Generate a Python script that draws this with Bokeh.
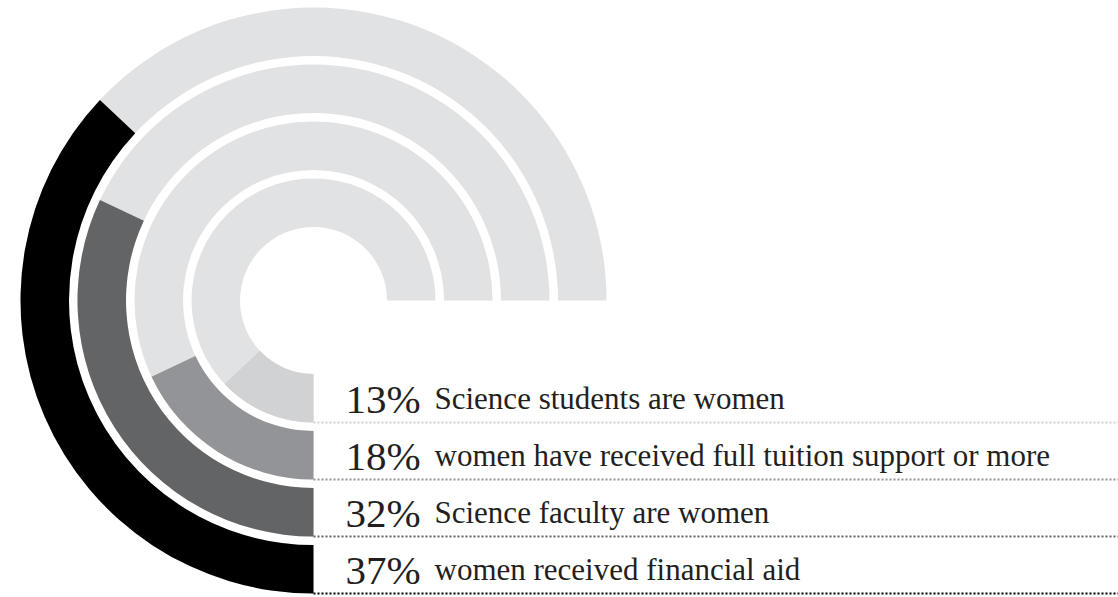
import math
from bokeh.plotting import figure
from bokeh.models import Range1d, ColumnDataSource
from bokeh.core.properties import value
from bokeh.embed import file_html
from bokeh.resources import INLINE

# ---- data (inner ring first) ----
labels = [
    "Science students are women",
    "women have received full tuition support or more",
    "Science faculty are women",
    "women received financial aid",
]
percents = [13, 18, 32, 37]
colors = ["#d1d2d4", "#929497", "#636466", "#000000"]
track_color = "#e1e2e3"
text_color = "#231f20"

# ---- geometry (pixel-like data units, centre at 0,0) ----
W, H = 1118, 597
cx, cy = 313, 300
x_lo, x_hi = -cx, W - cx
y_lo, y_hi = cy - H, cy

ring_outer = [122 + 57 * i for i in range(len(percents))]
ring_inner = [r - 48.5 for r in ring_outer]

p = figure(width=W, height=H, output_backend="svg", toolbar_location=None,
           x_range=Range1d(x_lo, x_hi), y_range=Range1d(y_lo, y_hi),
           min_border=0, outline_line_color=None)
p.axis.visible = False
p.grid.visible = False
p.background_fill_color = "white"
p.border_fill_color = "white"

# tracks: 270 degrees from the bottom, clockwise to the right
track = ColumnDataSource(dict(
    x=[0] * len(percents), y=[0] * len(percents),
    inner=ring_inner, outer=ring_outer,
    start=[0.0] * len(percents), end=[270.0] * len(percents)))
p.annular_wedge(x="x", y="y", inner_radius="inner", outer_radius="outer",
                start_angle="start", end_angle="end", start_angle_units="deg",
                end_angle_units="deg", direction="anticlock",
                fill_color=track_color, line_color=None, source=track)

# value arcs: start at the bottom and go clockwise by percent of 360 degrees
vals = ColumnDataSource(dict(
    x=[0] * len(percents), y=[0] * len(percents),
    inner=ring_inner, outer=ring_outer,
    start=[270.0 - v * 3.6 for v in percents], end=[270.0] * len(percents),
    color=colors))
p.annular_wedge(x="x", y="y", inner_radius="inner", outer_radius="outer",
                start_angle="start", end_angle="end", start_angle_units="deg",
                end_angle_units="deg", direction="anticlock",
                fill_color="color", line_color=None, source=vals)

# dotted leader lines along the bottom edge of each ring
for r, c in zip(ring_outer, colors):
    p.segment(x0=0, y0=-r, x1=x_hi + 5, y1=-r, line_color=c,
              line_width=2, line_dash="2 2")

# labels
base_y = [-(r - 24) for r in ring_outer]
pct_src = ColumnDataSource(dict(
    x=[32] * len(percents), y=base_y,
    text=[f"{v}%" for v in percents]))
p.text(x="x", y="y", text="text", source=pct_src,
       text_font=value("Liberation Serif"), text_font_size="41px",
       text_baseline="alphabetic", text_align="left", text_color=text_color)

lab_src = ColumnDataSource(dict(
    x=[121] * len(labels), y=base_y, text=labels))
p.text(x="x", y="y", text="text", source=lab_src,
       text_font=value("Liberation Serif"), text_font_size="31px",
       text_baseline="alphabetic", text_align="left", text_color=text_color)

open("out.html", "w").write(file_html(p, INLINE))
